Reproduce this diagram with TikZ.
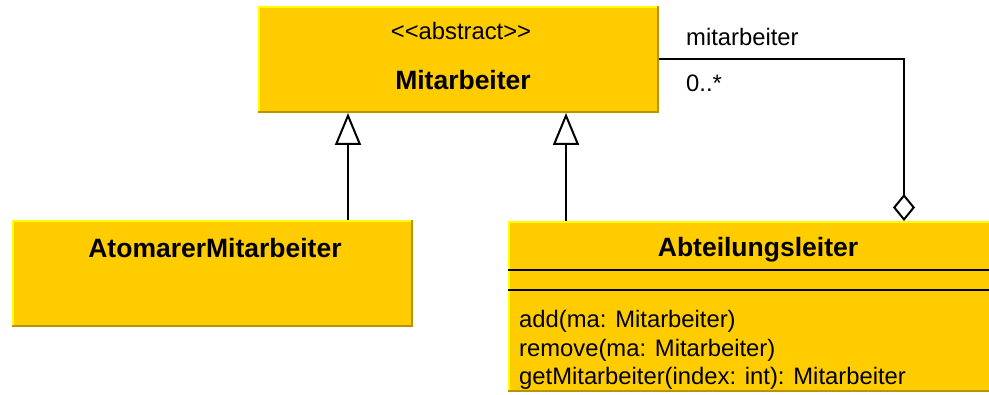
\documentclass[tikz,border=0pt]{standalone}
\usepackage{fontspec}
\setmainfont{Liberation Sans}
\usetikzlibrary{arrows.meta}
\definecolor{umlfill}{RGB}{255,204,0}
\definecolor{umllight}{RGB}{255,255,0}
\definecolor{umldark}{RGB}{184,148,0}
\tikzset{
 classbox/.style={rectangle, fill=umlfill, draw=none, inner sep=0pt, outer sep=0pt, anchor=north west},
 reg/.style={font=\fontsize{23.8}{28}\selectfont, inner sep=0pt},
 bld/.style={font=\fontsize{26.5}{28}\selectfont\bfseries, inner sep=0pt},
 gen/.style={line width=2pt, -{Triangle[open, width=26pt, length=32pt, line width=2pt]}},
 agg/.style={line width=2pt, -{Diamond[open, width=22pt, length=27pt, line width=2pt]}},
 sepline/.style={line width=2pt, black},
 lightedge/.style={umllight, line width=2pt},
 darkedge/.style={umldark, line width=2.5pt},
}
\newcommand\umlbevel[1]{%
 \draw[lightedge] ([xshift=1pt]#1.south west) -- ([shift={(1pt,-1pt)}]#1.north west) -- ([yshift=-1pt]#1.north east);
 \draw[darkedge] ([xshift=-1pt]#1.north east) -- ([shift={(-1pt,1pt)}]#1.south east) -- ([yshift=1pt]#1.south west);}
\begin{document}
\begin{tikzpicture}[x=1pt,y=-1pt]
\useasboundingbox (0,0) rectangle (989,395);
\clip (0,0) rectangle (989,395);
% class boxes
\node[classbox, minimum width=401pt, minimum height=107pt] (mit) at (258,6) {};
\node[classbox, minimum width=401pt, minimum height=107pt] (atom) at (12,220) {};
\node[classbox, minimum width=501pt, minimum height=171pt] (abt) at (508,221) {};
\umlbevel{mit}
\umlbevel{atom}
\umlbevel{abt}
% compartments
\draw[sepline] (abt.west |- 0,270) -- (abt.east |- 0,270);
\draw[sepline] (abt.west |- 0,290) -- (abt.east |- 0,290);
% texts
\node[reg, anchor=base] (mitst) at (461,40) {{<}{<}abstract{>}{>}};
\node[bld, anchor=base] (mitname) at (463,90) {Mitarbeiter};
\node[bld, anchor=base] (atomname) at (215,258) {AtomarerMitarbeiter};
\node[bld, anchor=base] (abtname) at (758,257) {Abteilungsleiter};
\node[reg, anchor=base west] (m1) at (519,328) {add(ma: Mitarbeiter)};
\node[reg, anchor=base west] (m2) at (519,357) {remove(ma: Mitarbeiter)};
\node[reg, anchor=base west] (m3) at (519,385) {getMitarbeiter(index: int): Mitarbeiter};
\node[reg, anchor=base west] (rolename) at (686,46) {mitarbeiter};
\node[reg, anchor=base west] (mult) at (686,92) {0..*};
% connectors
\coordinate (g1) at ([xshift=336pt]atom.north west);
\coordinate (g2) at ([xshift=58pt]abt.north west);
\coordinate (a1) at ([xshift=396pt]abt.north west);
\draw[gen] (g1) -- (g1 |- mit.south);
\draw[gen] (g2) -- (g2 |- mit.south);
\draw[agg] (mit.east) -| (a1);
\end{tikzpicture}
\end{document}
